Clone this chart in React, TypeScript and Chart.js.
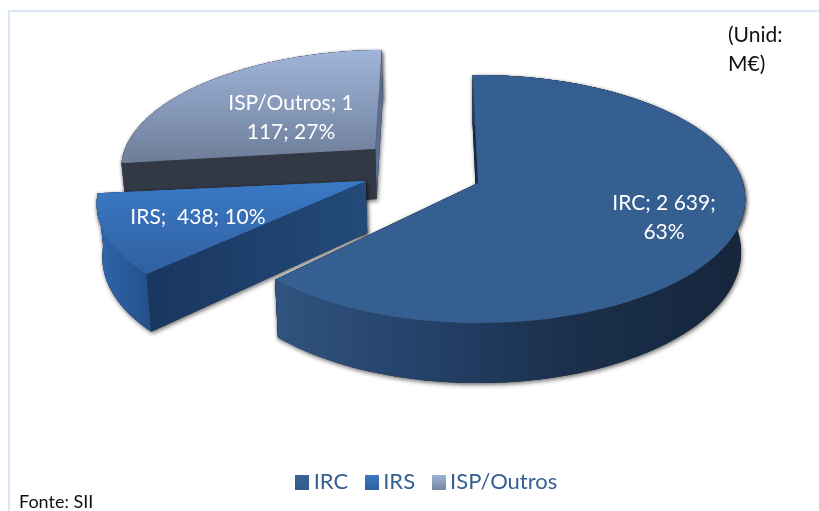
import React, { useEffect, useRef } from "react";
import { Chart, registerables } from "chart.js";

Chart.register(...registerables);

const categories = ["IRC", "IRS", "ISP/Outros"];
const seriesValues = [2639, 438, 1117];
const sliceLabels = [["IRC; 2 639;", "63%"], ["IRS;  438; 10%"], ["ISP/Outros; 1", "117; 27%"]];
const labelCenters = [[664, 203, 232], [198, 217, 217], [291, 103, 132]];
const unitLines = ["(Unid:", "M€)"];
const sourceText = "Fonte: SII";

const FONT = "Lato, 'Open Sans', sans-serif";
const CX = 478, CY = 183, B = 265, A = 122, K = 0.129;
const explode = [[0, 0], [-0.425, -0.016], [-0.402, -0.29]];
const radiusScale = [1, 1, 0.98];
const DEG = Math.PI / 180;
// small per-slice corrections for the perspective of the 3-D view
const angleTrim = [[0, -1.2 * DEG], [0.5 * DEG, 1.5 * DEG], [0, 0]];
const legendColors = [["#3a6496", "#335a8c"], ["#3b79c6", "#2f629f"], ["#a0b4da", "#76879f"]];

const project = (u: number, v: number) => {
  const den = 1 - K * v;
  return [CX + (B * u) / den, CY + (A * v) / den];
};
const under = (u: number, v: number) => {
  const [x, y] = project(u, v);
  return [470 + (x - 470) * 0.985, y + Math.max(50, 52 + 8 * v)];
};
const swatch = (c: string[]) => {
  const cv = document.createElement("canvas");
  cv.width = 14; cv.height = 15;
  const g = cv.getContext("2d")!;
  const gr = g.createLinearGradient(0, 0, 0, 15);
  gr.addColorStop(0, c[0]); gr.addColorStop(1, c[1]);
  g.fillStyle = gr; g.fillRect(0, 0, 14, 15);
  return cv;
};

const poly = (ctx: CanvasRenderingContext2D, pts: number[][], fill: any) => {
  ctx.beginPath();
  pts.forEach((p, i) => (i ? ctx.lineTo(p[0], p[1]) : ctx.moveTo(p[0], p[1])));
  ctx.closePath();
  ctx.fillStyle = fill;
  ctx.fill();
};
const hGrad = (ctx: CanvasRenderingContext2D, x0: number, x1: number, stops: [number, string][]) => {
  const g = ctx.createLinearGradient(x0, 0, x1, 0);
  stops.forEach(([o, c]) => g.addColorStop(o, c));
  return g;
};
const vGrad = (ctx: CanvasRenderingContext2D, y0: number, y1: number, stops: [number, string][]) => {
  const g = ctx.createLinearGradient(0, y0, 0, y1);
  stops.forEach(([o, c]) => g.addColorStop(o, c));
  return g;
};

const pie3d = {
  id: "pie3d",
  beforeDatasetsDraw(chart: any) {
    const ctx: CanvasRenderingContext2D = chart.ctx;
    const arcs = chart.getDatasetMeta(0).data;
    ctx.save();
    // frame of the chart
    ctx.fillStyle = "#dbe7f8";
    ctx.fillRect(8, 10, 811, 2);
    ctx.fillRect(8, 10, 2, 501);

    const styles = [
      {
        top: () => "#365f91",
        wall: () => hGrad(ctx, 277, 745, [[0, "#30537f"], [0.3, "#24426a"], [0.62, "#1b304c"], [1, "#15263c"]]),
        start: () => "#142a46",
        end: () => "#142a46",
      },
      {
        top: () => vGrad(ctx, 181, 278, [[0, "#3b79c6"], [1, "#2f5f9f"]]),
        wall: () => hGrad(ctx, 97, 150, [[0, "#2f66ac"], [1, "#24508a"]]),
        start: () => hGrad(ctx, 146, 362, [[0, "#193660"], [1, "#234a78"]]),
        end: () => "#2f66ac",
      },
      {
        top: () => vGrad(ctx, 52, 160, [[0, "#9fb4da"], [1, "#6f7f9a"]]),
        wall: () => "#5b6c8d",
        start: () => "#323844",
        end: () => "#5b6e92",
      },
    ];

    [2, 1, 0].forEach((i) => {
      const props = arcs[i].getProps(["startAngle", "endAngle"], true);
      const startAngle = props.startAngle + angleTrim[i][0];
      const endAngle = props.endAngle + angleTrim[i][1];
      const [du, dv] = explode[i];
      const r = radiusScale[i];
      const rim: number[][] = [];
      const N = 120;
      for (let t = 0; t <= N; t++) {
        const a = startAngle + ((endAngle - startAngle) * t) / N;
        rim.push([du + r * Math.cos(a), dv + r * Math.sin(a)]);
      }
      const topRim = rim.map((p) => project(p[0], p[1]));
      const lowRim = rim.map((p) => under(p[0], p[1]));
      const apexT = project(du, dv);
      const apexB = under(du, dv);
      const wall = [...topRim, ...lowRim.slice().reverse()];
      const faceStart = [apexT, topRim[0], lowRim[0], apexB];
      const faceEnd = [apexT, topRim[N], lowRim[N], apexB];
      const top = [apexT, ...topRim];
      const st = styles[i];

      ctx.save();
      ctx.shadowColor = "rgba(0,0,0,0.55)";
      ctx.shadowBlur = 4;
      ctx.shadowOffsetX = 1;
      ctx.shadowOffsetY = 2;
      poly(ctx, wall, "#222");
      poly(ctx, faceStart, "#222");
      poly(ctx, faceEnd, "#222");
      poly(ctx, top, "#222");
      ctx.restore();

      if (i === 0) {
        poly(ctx, faceEnd, st.end());
        poly(ctx, faceStart, st.start());
        poly(ctx, wall, st.wall());
      } else if (i === 1) {
        poly(ctx, faceEnd, st.end());
        poly(ctx, wall, st.wall());
        poly(ctx, faceStart, st.start());
      } else {
        poly(ctx, wall, st.wall());
        poly(ctx, faceEnd, st.end());
        poly(ctx, faceStart, st.start());
      }
      poly(ctx, top, st.top());
    });

    // data labels
    ctx.font = `21px ${FONT}`;
    ctx.fillStyle = "#ffffff";
    ctx.textAlign = "center";
    ctx.textBaseline = "middle";
    sliceLabels.forEach((lines, i) => {
      lines.forEach((l, j) => ctx.fillText(l, labelCenters[i][0], labelCenters[i][1 + j]));
    });

    // notes
    ctx.fillStyle = "#111111";
    ctx.textAlign = "left";
    ctx.font = `21px ${FONT}`;
    unitLines.forEach((l, j) => ctx.fillText(l, 728, 35 + 29 * j));
    ctx.font = `18px ${FONT}`;
    ctx.fillText(sourceText, 19, 502);
    ctx.restore();
    return false;
  },
};

export default function App() {
  const ref = useRef<HTMLCanvasElement>(null);
  useEffect(() => {
    const chart = new Chart(ref.current!, {
      type: "pie",
      data: {
        labels: categories,
        datasets: [{ data: seriesValues, backgroundColor: legendColors.map((c) => c[0]), borderWidth: 0 }],
      },
      options: {
        responsive: false,
        animation: false,
        rotation: -1.3,
        layout: { padding: { left: 40, bottom: 8, top: 0, right: 0 } },
        plugins: {
          tooltip: { enabled: false },
          legend: {
            position: "bottom",
            labels: {
              usePointStyle: true,
              pointStyleWidth: 1,
              padding: 23,
              font: { family: FONT, size: 22 },
              color: "#365f91",
              generateLabels: () =>
                categories.map((c, i) => ({
                  text: c,
                  pointStyle: swatch(legendColors[i]),
                  fontColor: "#365f91",
                  hidden: false,
                  index: i,
                  lineWidth: 0,
                })),
            },
          },
        },
      } as any,
      plugins: [pie3d as any],
    });
    return () => chart.destroy();
  }, []);
  return (
    <div style={{ position: "fixed", left: 0, top: 0, width: 819, height: 511, background: "#fff" }}>
      <canvas ref={ref} width={819} height={511} style={{ display: "block" }} />
    </div>
  );
}
